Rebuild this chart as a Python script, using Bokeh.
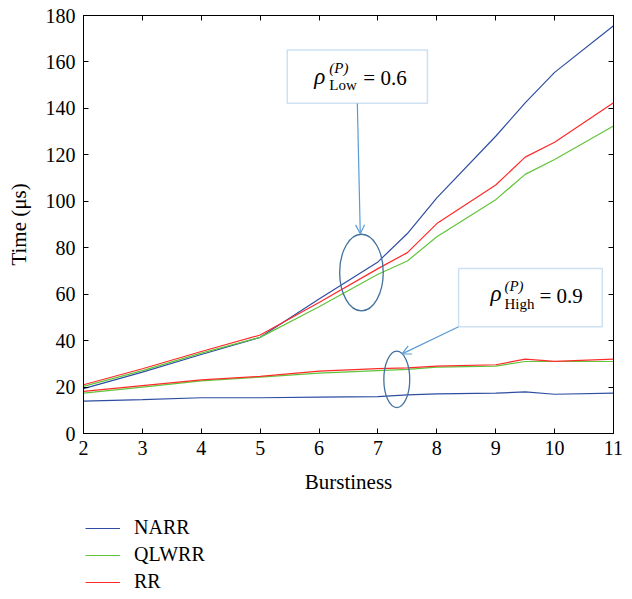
from bokeh.plotting import figure
from bokeh.layouts import column
from bokeh.models import (Legend, LegendItem, LinearAxis, FixedTicker, Label, Arrow,
                          OpenHead, BoxAnnotation, CustomJSTickFormatter, Range1d)
from bokeh.embed import file_html
from bokeh.resources import INLINE

# ---------------- data ----------------
burstiness = [2, 3, 4, 5, 6, 7, 7.5, 8, 9, 9.5, 10, 11]

narr_low = [19.3, 26.4, 34.0, 41.4, 57.9, 73.9, 86.1, 101.5, 128.0, 142.4, 155.5, 175.6]
qlwrr_low = [20.3, 27.1, 34.6, 41.4, 54.6, 68.6, 74.3, 84.7, 100.7, 111.6, 118.0, 132.4]
rr_low = [21.0, 27.9, 35.3, 42.4, 56.4, 71.0, 77.9, 90.4, 107.0, 119.0, 125.4, 142.4]

narr_high = [13.9, 14.6, 15.4, 15.4, 15.7, 15.9, 16.6, 17.1, 17.4, 17.9, 16.9, 17.4]
qlwrr_high = [17.4, 20.0, 22.7, 24.3, 26.0, 27.1, 27.6, 28.6, 29.0, 31.0, 31.0, 31.0]
rr_high = [18.1, 20.6, 23.1, 24.6, 26.9, 27.9, 28.3, 29.0, 29.6, 32.0, 31.1, 32.0]

series_names = ["NARR", "QLWRR", "RR"]
x_ticks = [2, 3, 4, 5, 6, 7, 8, 9, 10, 11]
y_ticks = [0, 20, 40, 60, 80, 100, 120, 140, 160, 180]

# annotation anchors (data units)
low_box = dict(left=5.46, right=7.84, bottom=142.2, top=165.1)
high_box = dict(left=8.37, right=10.81, bottom=46.0, top=71.0)
low_ellipse = (6.72, 69.3, 0.74, 33.0)
high_ellipse = (7.32, 23.3, 0.44, 24.3)

# ---------------- styling ----------------
FONT = "Liberation Serif"
C_NARR = "#2f4ea3"
C_QLWRR = "#62c43a"
C_RR = "#ff2a2a"
C_BOX = "#5b9bd5"
C_ELL = "#41719c"
colors = [C_NARR, C_QLWRR, C_RR]

p = figure(frame_width=530, frame_height=418,
           min_border_left=83, min_border_right=19, min_border_top=15, min_border_bottom=67,
           x_range=Range1d(2, 11), y_range=Range1d(0, 180),
           output_backend="svg", toolbar_location=None)
p.xaxis.visible = False
p.yaxis.visible = False
p.grid.visible = False
p.outline_line_color = "black"
p.outline_line_width = 1

def style_axis(ax, labels=True):
    ax.major_tick_in = 5
    ax.major_tick_out = 0
    ax.minor_tick_line_color = None
    ax.axis_line_color = "black"
    ax.major_tick_line_color = "black"
    ax.major_label_text_font = FONT
    ax.major_label_text_font_size = "20px"
    ax.major_label_text_color = "black"
    ax.axis_label_text_font = FONT
    ax.axis_label_text_font_size = "21px"
    ax.axis_label_text_font_style = "normal"
    ax.axis_label_text_color = "black"
    if not labels:
        ax.formatter = CustomJSTickFormatter(code="return ''")

xb = LinearAxis(ticker=FixedTicker(ticks=x_ticks), axis_label="Burstiness")
style_axis(xb)
xb.major_label_standoff = 7
xb.axis_label_standoff = 12
yl = LinearAxis(ticker=FixedTicker(ticks=y_ticks), axis_label="Time (μs)")
style_axis(yl)
yl.major_label_standoff = 8
yl.axis_label_standoff = 12
xt = LinearAxis(ticker=FixedTicker(ticks=x_ticks))
style_axis(xt, labels=False)
yr = LinearAxis(ticker=FixedTicker(ticks=y_ticks))
style_axis(yr, labels=False)
p.add_layout(xb, "below")
p.add_layout(yl, "left")
p.add_layout(xt, "above")
p.add_layout(yr, "right")

lw = 1.2
p.line(burstiness, narr_low, line_color=C_NARR, line_width=lw)
p.line(burstiness, narr_high, line_color=C_NARR, line_width=lw)
p.line(burstiness, qlwrr_low, line_color=C_QLWRR, line_width=lw)
p.line(burstiness, qlwrr_high, line_color=C_QLWRR, line_width=lw)
p.line(burstiness, rr_low, line_color=C_RR, line_width=lw)
p.line(burstiness, rr_high, line_color=C_RR, line_width=lw)

# ellipses
for (cx, cy, w, h) in (low_ellipse, high_ellipse):
    p.ellipse(x=[cx], y=[cy], width=[w], height=[h], fill_color=None,
              line_color=C_ELL, line_width=1.3)

# connectors / arrows
p.add_layout(Arrow(x_start=6.65, y_start=low_box["bottom"], x_end=6.70, y_end=86.0,
                   line_color=C_BOX, line_width=1.2,
                   end=OpenHead(size=9, line_color=C_BOX, line_width=1.2)))
p.add_layout(Arrow(x_start=high_box["left"], y_start=high_box["bottom"], x_end=7.41, y_end=34.3,
                   line_color=C_BOX, line_width=1.2,
                   end=OpenHead(size=9, line_color=C_BOX, line_width=1.2)))

# boxes
for b in (low_box, high_box):
    p.add_layout(BoxAnnotation(left=b["left"], right=b["right"], bottom=b["bottom"], top=b["top"],
                               fill_color="white", fill_alpha=1.0,
                               line_color=C_BOX, line_width=1.5, level="overlay"))

def rho_label(x0, y0, sub, val, dx, sup_dy, sub_dy, eq_dx):
    kw = dict(x=x0, y=y0, text_font=FONT, text_baseline="alphabetic", level="overlay",
              text_color="black")
    p.add_layout(Label(text="ρ", text_font_style="italic", text_font_size="23px", **kw))
    p.add_layout(Label(x_offset=dx, y_offset=sup_dy, text="(P)", text_font_style="italic",
                       text_font_size="15px", **kw))
    p.add_layout(Label(x_offset=dx, y_offset=sub_dy, text=sub, text_font_size="15px", **kw))
    p.add_layout(Label(x_offset=eq_dx, y_offset=-2, text="= " + val, text_font_size="21px", **kw))

rho_label(5.92, 153.8, "Low", "0.6", 15, 8, -9, 49)
rho_label(8.91, 60.2, "High", "0.9", 14, 8, -10, 49)

# ---------------- legend panel below the chart ----------------
leg = figure(width=632, height=99, x_range=Range1d(0, 1), y_range=Range1d(0, 1),
             min_border=0, output_backend="svg", toolbar_location=None)
leg.axis.visible = False
leg.grid.visible = False
leg.outline_line_color = None
nan = float("nan")
items = []
for name, c in zip(series_names, colors):
    r = leg.line(x=[nan], y=[nan], line_color=c, line_width=lw)
    items.append(LegendItem(label=name, renderers=[r]))
legend = Legend(items=items, location=(2, 6), orientation="vertical",
                label_text_font=FONT, label_text_font_size="20px", label_text_color="black",
                glyph_width=35, label_standoff=14, spacing=4,
                border_line_alpha=0, background_fill_alpha=0,
                padding=0, margin=0)
leg.add_layout(legend, "center")

layout = column(p, leg, spacing=0)
open("out.html", "w").write(file_html(layout, INLINE))
